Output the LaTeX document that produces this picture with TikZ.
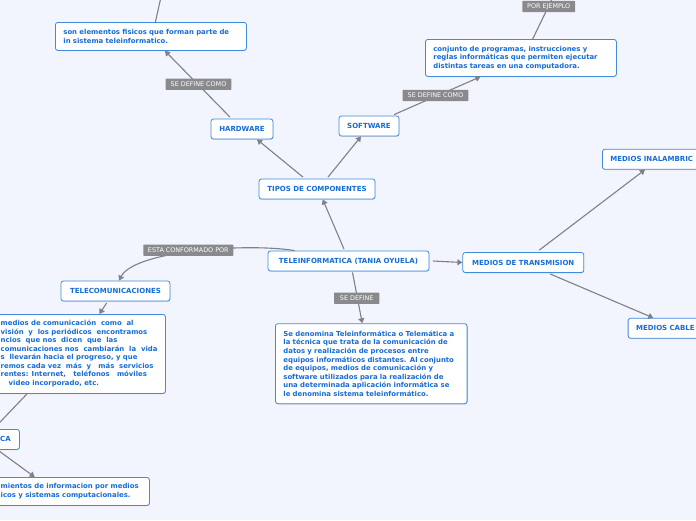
\documentclass[tikz,border=0pt]{standalone}
\usepackage{fontspec}
\setsansfont{DejaVu Sans}
\usetikzlibrary{arrows.meta,calc,shadows}
\definecolor{bgc}{RGB}{242,245,253}
\definecolor{bordc}{RGB}{66,138,222}
\definecolor{txtc}{RGB}{22,108,214}
\definecolor{lblc}{RGB}{138,138,140}
\definecolor{linec}{RGB}{128,128,134}
\newcommand\boxfont{\fontsize{6.9}{8.57}\selectfont\sffamily\bfseries}
\newcommand\ttlfont{\fontsize{7.0}{8.57}\selectfont\sffamily\bfseries}
\newcommand\lblfont{\fontsize{6.4}{7}\selectfont\sffamily}
\tikzset{
  box/.style={draw=bordc, line width=0.8pt, fill=white, rounded corners=2.5pt,
    text=txtc, font=\boxfont, inner ysep=0pt,
    drop shadow={shadow xshift=0.4pt, shadow yshift=-0.8pt, fill=black!35, opacity=0.45}},
  tbox/.style={box, font=\ttlfont, inner xsep=2pt, minimum height=20pt, align=center},
  pbox/.style={box, inner xsep=8pt, align=left, anchor=north west},
  frag/.style={text=txtc, font=\boxfont, inner sep=0pt, anchor=base west},
  lbl/.style={fill=lblc, text=white, font=\lblfont, inner sep=0pt, minimum height=11.3pt, rounded corners=0.6pt},
  conn/.style={draw=linec, line width=1.1pt},
  arr/.style={conn, -{Triangle[length=5pt,width=6pt]}}
}
\begin{document}
\begin{tikzpicture}[x=1pt,y=-1pt]
\fill[bgc] (0,0) rectangle (696,520);
\useasboundingbox (0,0) rectangle (696,520);
\clip (0,0) rectangle (696,520);

% nodes
\node[pbox, text width=175pt, minimum height=28pt] (son) at (55,22)
  {son elementos fisicos que forman parte de\\in sistema teleinformatico.};
\node[tbox, minimum width=62pt] (hw) at (242,129) {HARDWARE};
\node[tbox, minimum width=60pt] (sw) at (369,126) {SOFTWARE};
\node[pbox, text width=175pt, minimum height=37pt] (conj) at (425,39)
  {conjunto de programas, instrucciones y\\reglas informáticas que permiten ejecutar\\distintas tareas en una computadora.};
\node[tbox, minimum width=116pt] (tipos) at (317,189) {TIPOS DE COMPONENTES};
\node[tbox, minimum width=161pt] (tele) at (348.5,261) {TELEINFORMATICA (TANIA OYUELA)};
\node[tbox, minimum width=109pt] (tc) at (115.5,291) {TELECOMUNICACIONES};
\node[pbox, text width=175pt, minimum height=79pt] (big) at (-26,314) {};
\node[frag] (b1) at (0.5,325.5) {medios de comunicación\ \ como\ \ al};
\node[frag] (b2) at (0.5,334.1) {visión\ \ y\ \ los periódicos\ \ encontramos};
\node[frag] (b3) at (0.5,342.6) {ncios\ \ que nos\ \ dicen\ \ que\ \ las};
\node[frag] (b4) at (0.5,351.2) {comunicaciones nos\ \ cambiarán\ \ la\ \ vida};
\node[frag] (b5) at (0.5,359.8) {s\ \ llevarán hacia el progreso, y que};
\node[frag] (b6) at (0.5,368.3) {remos cada vez\ \ más\ \ y\ \ \ más\ \ servicios};
\node[frag] (b7) at (0.5,376.9) {rentes: Internet,\ \ \ teléfonos\ \ \ móviles};
\node[frag] (b8) at (8.5,385.5) {video incorporado, etc.};
\node[pbox, text width=43pt, minimum height=20pt] (ca) at (-40,429) {};
\node[frag, font=\ttlfont, anchor=base east] (catxt) at (11,441.3) {CA};
\node[pbox, text width=175pt, minimum height=28pt] (bot) at (-42,477) {};
\node[frag] (t1) at (0.5,488.8) {mientos de informacion por medios};
\node[frag] (t2) at (0.5,497.4) {icos y sistemas computacionales.};
\node[tbox, minimum width=121pt] (mdt) at (523.3,262.5) {MEDIOS DE TRANSMISION};
\node[pbox, font=\ttlfont, anchor=west, text width=104pt, minimum height=20pt] (inal) at (602,159.3) {MEDIOS INALAMBRIC};
\node[pbox, font=\ttlfont, anchor=west, text width=100pt, minimum height=20pt] (cab) at (627.7,328.3) {MEDIOS CABLE};
\node[pbox, text width=175.7pt, minimum height=80pt] (se) at (275,323.3)
  {Se denomina Teleinformática o Telemática a\\la técnica que trata de la comunicación de\\datos y realización de procesos entre\\equipos informáticos distantes. Al conjunto\\de equipos, medios de comunicación y\\software utilizados para la realización de\\una determinada aplicación informática se\\le denomina sistema teleinformático.};

% connectors
\coordinate (sonup) at (161,-3);
\coordinate (conjup) at (553,-3);
\draw[conn] ($(son.north)+(4.5,0)$) -- (sonup);
\draw[conn] ($(conj.north)+(11.8,0)$) -- (conjup);
\draw[arr] ($(hw.north)+(-12,-1.5)$) -- ($(son.south)+(14,0)$);
\draw[arr] ($(sw.north)+(25,-1)$) -- ($(conj.south)+(-40.5,0)$);
\draw[arr] ($(tipos.north)+(-14,-1.5)$) -- ($(hw.south)+(15,0)$);
\draw[arr] ($(tipos.north)+(11,-1.5)$) -- ($(sw.south)+(-8,0)$);
\draw[arr] ($(tele.north)+(-4.5,-1.5)$) -- ($(tipos.south)+(5.7,0)$);
\draw[arr] ($(tele.north west)+(27,0)$) .. controls (250,243) and (135,250) .. ($(tc.north)+(3.5,0)$);
\draw[arr] ($(tc.south)+(-8.8,1.5)$) -- ($(big.north)+(29.5,0)$);
\draw[conn] ($(big.south)+(-42.8,0)$) -- ($(ca.north)+(3.5,0)$);
\draw[arr] ($(ca.south)+(7.5,0)$) -- ($(bot.north)+(-19.2,0)$);
\draw[arr] ($(tele.east)+(3.5,0)$) -- (mdt.west);
\draw[arr] ($(mdt.north)+(16,-2)$) -- ($(inal.south west)+(43,0)$);
\draw[arr] ($(mdt.south)+(26.7,1)$) -- ($(cab.north west)+(25.6,0)$);
\draw[arr] ($(tele.south)+(4,1)$) -- ($(se.north)+(-9,0)$);

% labels
\node[lbl, minimum width=65.6pt] (l1) at (198.5,84.3) {SE DEFINE COMO};
\node[lbl, minimum width=65.6pt] (l2) at (435.5,95.5) {SE DEFINE COMO};
\node[lbl, minimum width=52.7pt] (l3) at (548.7,6.5) {POR EJEMPLO};
\node[lbl, minimum width=90pt] (l4) at (188.3,250.2) {ESTA CONFORMADO POR};
\node[lbl, minimum width=45.3pt] (l5) at (356.7,298.2) {SE DEFINE};
\end{tikzpicture}
\end{document}
